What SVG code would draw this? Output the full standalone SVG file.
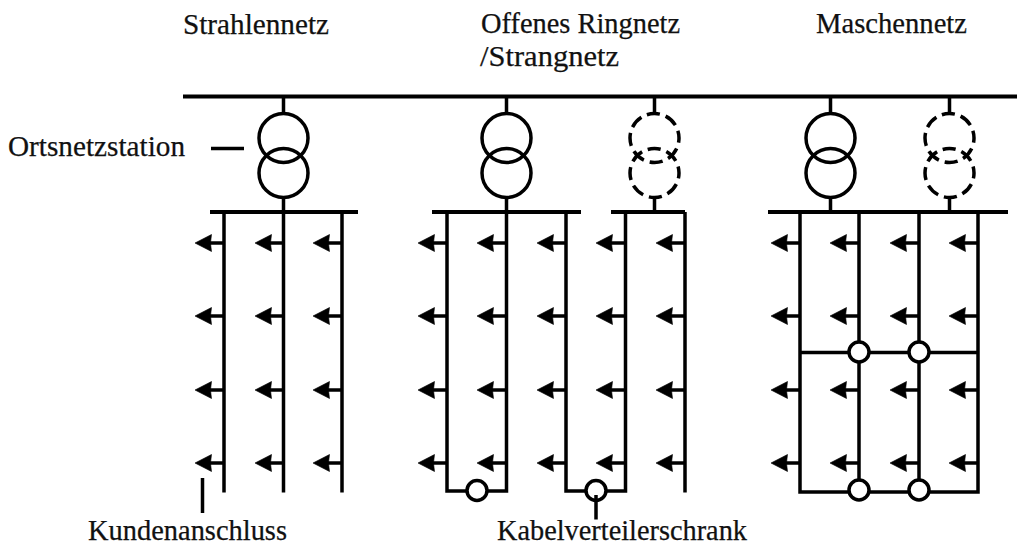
<svg xmlns="http://www.w3.org/2000/svg" xmlns:xlink="http://www.w3.org/1999/xlink" width="1017" height="542" viewBox="0 0 1017 542">
<style>
text{font-family:"Liberation Serif",serif;font-size:29px;fill:#111;stroke:#111;stroke-width:.25}
.b{stroke:#000;stroke-width:4;fill:none}
.c{stroke:#000;stroke-width:3.5;fill:none}
.w{stroke:#000;stroke-width:3.5;fill:#fff}
.d1{stroke-dasharray:13.250 6;stroke-dashoffset:-10.700}
.d2{stroke-dasharray:13.250 6;stroke-dashoffset:-11.500}
</style>
<defs>
<g id="a"><path d="M0 0H-16" class="c"/><path d="M-29 0L-12.500 -8.500L-13.500 0L-12.500 8.500Z" fill="#000" stroke="#000" stroke-width=".6"/></g>
<g id="t"><circle cx="0" cy="0" r="24.500" class="c"/><circle cx="0" cy="35" r="24.500" class="c"/></g>
<g id="td"><circle cx="0" cy="0" r="24.500" class="c d1"/><circle cx="0" cy="35" r="24.500" class="c d2"/></g>
</defs>
<g id="labels">
<text x="183" y="34" textLength="146" lengthAdjust="spacingAndGlyphs">Strahlennetz</text>
<text x="481" y="33" textLength="199" lengthAdjust="spacingAndGlyphs">Offenes Ringnetz</text>
<text x="480" y="66" textLength="139" lengthAdjust="spacingAndGlyphs">/Strangnetz</text>
<text x="816" y="33" textLength="151" lengthAdjust="spacingAndGlyphs">Maschennetz</text>
<text x="8" y="156" textLength="177" lengthAdjust="spacingAndGlyphs">Ortsnetzstation</text>
<text x="88" y="539.500" textLength="199" lengthAdjust="spacingAndGlyphs">Kundenanschluss</text>
<text x="497" y="539.500" textLength="250" lengthAdjust="spacingAndGlyphs">Kabelverteilerschrank</text>
</g>
<g id="connectors">
<path class="b" d="M183 96.500H1017"/>
<path class="c" d="M283.500 98V113M283.500 198V212M506.500 98V113M506.500 198V212M654.500 98V113M654.500 198V212M830.500 98V113M830.500 198V212M949.500 98V113M949.500 198V212"/>
<path class="b" d="M210 212H358M432 212H581M611 212H685M768 212H1008"/>
<path class="c" d="M224 212V492.500M283.500 212V492.500M342 212V492.500"/>
<path class="c" d="M447 212V491H506.500V212M566 212V491H625.500V212M685 212V492.500"/>
<path class="c" d="M800 212V492H978V212M859 212V492M919 212V492M800 352.500H978"/>
</g>
<g id="arrows">
<use xlink:href="#a" x="224" y="243"/><use xlink:href="#a" x="284" y="243"/><use xlink:href="#a" x="342" y="243"/>
<use xlink:href="#a" x="224" y="316"/><use xlink:href="#a" x="284" y="316"/><use xlink:href="#a" x="342" y="316"/>
<use xlink:href="#a" x="224" y="390"/><use xlink:href="#a" x="284" y="390"/><use xlink:href="#a" x="342" y="390"/>
<use xlink:href="#a" x="224" y="463"/><use xlink:href="#a" x="284" y="463"/><use xlink:href="#a" x="342" y="463"/>
<use xlink:href="#a" x="447" y="243"/><use xlink:href="#a" x="506" y="243"/><use xlink:href="#a" x="566" y="243"/><use xlink:href="#a" x="625" y="243"/><use xlink:href="#a" x="685" y="243"/>
<use xlink:href="#a" x="447" y="316"/><use xlink:href="#a" x="506" y="316"/><use xlink:href="#a" x="566" y="316"/><use xlink:href="#a" x="625" y="316"/><use xlink:href="#a" x="685" y="316"/>
<use xlink:href="#a" x="447" y="390"/><use xlink:href="#a" x="506" y="390"/><use xlink:href="#a" x="566" y="390"/><use xlink:href="#a" x="625" y="390"/><use xlink:href="#a" x="685" y="390"/>
<use xlink:href="#a" x="447" y="463"/><use xlink:href="#a" x="506" y="463"/><use xlink:href="#a" x="566" y="463"/><use xlink:href="#a" x="625" y="463"/><use xlink:href="#a" x="685" y="463"/>
<use xlink:href="#a" x="800" y="243"/><use xlink:href="#a" x="859" y="243"/><use xlink:href="#a" x="919" y="243"/><use xlink:href="#a" x="978" y="243"/>
<use xlink:href="#a" x="800" y="316"/><use xlink:href="#a" x="859" y="316"/><use xlink:href="#a" x="919" y="316"/><use xlink:href="#a" x="978" y="316"/>
<use xlink:href="#a" x="800" y="390"/><use xlink:href="#a" x="859" y="390"/><use xlink:href="#a" x="919" y="390"/><use xlink:href="#a" x="978" y="390"/>
<use xlink:href="#a" x="800" y="463"/><use xlink:href="#a" x="859" y="463"/><use xlink:href="#a" x="919" y="463"/><use xlink:href="#a" x="978" y="463"/>
</g>
<g id="station-1"><use xlink:href="#t" x="283.500" y="138"/></g>
<g id="station-2"><use xlink:href="#t" x="506.500" y="138"/></g>
<g id="station-3"><use xlink:href="#td" x="654.500" y="138"/></g>
<g id="station-4"><use xlink:href="#t" x="830.500" y="138"/></g>
<g id="station-5"><use xlink:href="#td" x="949.500" y="138"/></g>
<g id="cabinets">
<circle class="w" cx="477" cy="490.500" r="10"/>
<circle class="w" cx="596" cy="490.500" r="10"/>
<circle class="w" cx="859" cy="352" r="10"/>
<circle class="w" cx="919" cy="352" r="10"/>
<circle class="w" cx="859" cy="490" r="10"/>
<circle class="w" cx="919" cy="490" r="10"/>
</g>
<g id="leaders">
<path class="c" d="M211 148.500H244"/>
<path class="c" d="M202.500 478V513M596 495V519.500"/>
</g>
</svg>
